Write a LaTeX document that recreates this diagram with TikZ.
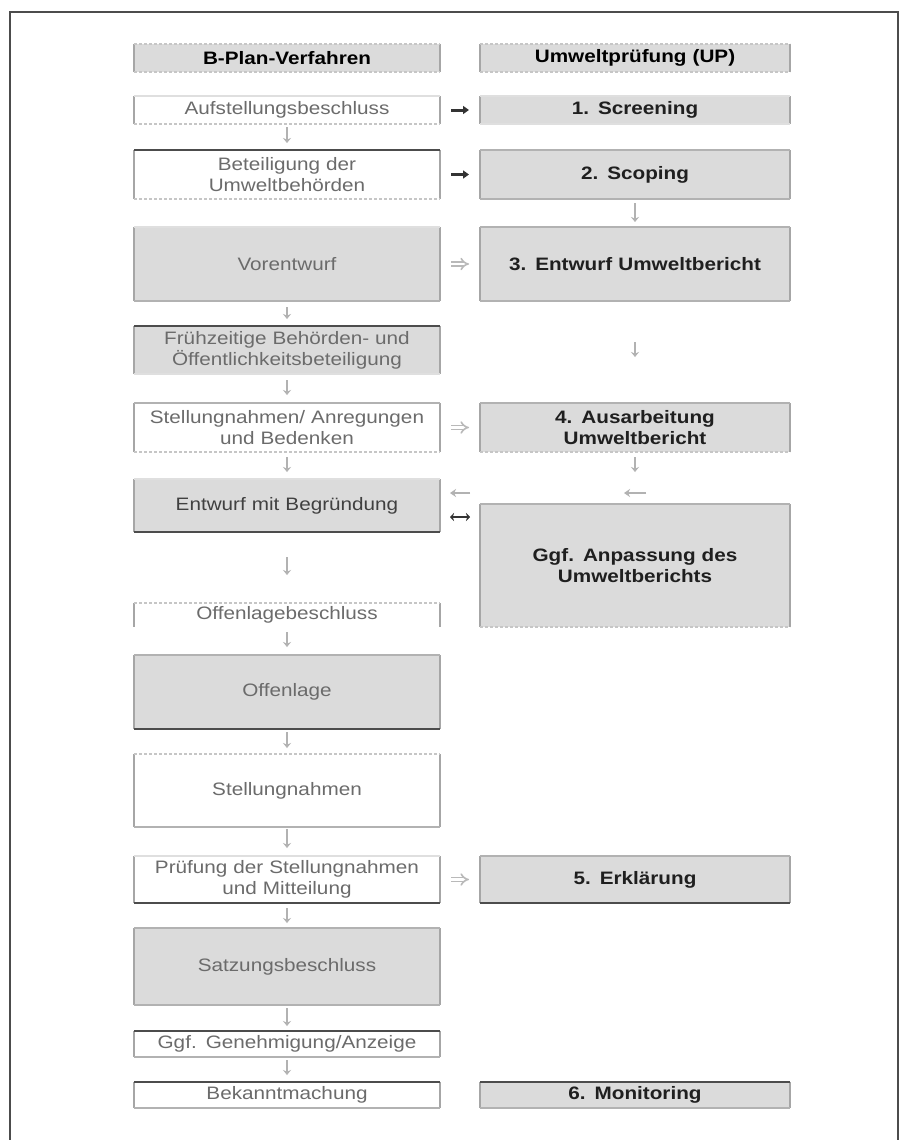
\documentclass[tikz,border=0pt]{standalone}
\usepackage{fontspec}
\setmainfont{Liberation Sans}[FakeStretch=1.15]
\usetikzlibrary{arrows.meta}
\definecolor{boxgray}{gray}{0.86}
\definecolor{txtL}{gray}{0.42}
\definecolor{txtR}{gray}{0.12}
\newcommand\boxedges[3]{%
  \draw[sideline] (#1.north west) -- (#1.south west) (#1.north east) -- (#1.south east);
  \draw[#2] (#1.north west) -- (#1.north east);
  \draw[#3] (#1.south west) -- (#1.south east);}
\begin{document}
\begin{tikzpicture}[x=1pt,y=-1pt,
  every node/.style={inner sep=0pt, outer sep=0pt, align=center, font=\fontsize{18}{21}\selectfont},
  lbox/.style={minimum width=306pt, text width=300pt, text=txtL},
  rbox/.style={minimum width=310pt, text width=304pt, text=txtR, font=\fontsize{18}{21}\selectfont\bfseries},
  gfill/.style={fill=boxgray},
  wfill/.style={fill=white},
  sideline/.style={draw=gray!70, line width=1.6pt},
  dk/.style={draw=black!70, line width=2.4pt},
  md/.style={draw=gray!60, line width=1.8pt},
  lt/.style={draw=gray!25, line width=1.4pt},
  dt/.style={draw=gray!45, line width=1.8pt, dash pattern=on 3pt off 2pt},
  nl/.style={draw=none},
  dn/.style={draw=gray!60, line width=2.6pt, -{Stealth[length=5pt,width=8pt]}},
  rdark/.style={draw=black!80, line width=3pt, -{Triangle[length=6pt,width=8pt]}, shorten <=11pt, shorten >=11pt},
  rdbl/.style={draw=gray!55, double, double distance=2.5pt, line width=1.6pt, -{Implies}, shorten <=11pt, shorten >=11pt},
  lar/.style={draw=gray!60, line width=2.4pt, -{Stealth[length=6pt,width=8pt]}},
  lrar/.style={draw=black!80, line width=2.8pt, {Stealth[length=4pt,width=8pt]}-{Stealth[length=4pt,width=8pt]}, shorten <=10pt, shorten >=10pt}
]
\useasboundingbox (0,0) rectangle (911,1140);
\fill[white] (0,0) rectangle (911,1140);
% frame
\draw[black!70, line width=1.4pt] (10,1150) -- (10,12) -- (898,12) -- (898,1150);

% left column
\node[lbox,gfill,minimum height=28pt,text=black,font=\fontsize{18}{21}\selectfont\bfseries] (hL) at (287,58) {B-Plan-Verfahren};
\node[lbox,wfill,minimum height=28pt] (auf) at (287,110) {Aufstellungsbeschluss};
\node[lbox,wfill,minimum height=49pt] (bet) at (287,174.5) {Beteiligung der\\Umweltbehörden};
\node[lbox,gfill,minimum height=74pt] (vor) at (287,264) {Vorentwurf};
\node[lbox,gfill,minimum height=48pt] (fru) at (287,350) {Frühzeitige Behörden- und\\Öffentlichkeitsbeteiligung};
\node[lbox,wfill,minimum height=49pt] (ste1) at (287,427.5) {Stellungnahmen/ Anregungen\\und Bedenken};
\node[lbox,gfill,minimum height=53pt,text=black!75] (ent) at (287,505.5) {Entwurf mit Begründung};
\node[lbox,wfill,minimum height=24pt] (olb) at (287,615) {Offenlagebeschluss};
\node[lbox,gfill,minimum height=74pt] (off) at (287,692) {Offenlage};
\node[lbox,wfill,minimum height=73pt] (ste2) at (287,790.5) {Stellungnahmen};
\node[lbox,wfill,minimum height=47pt] (pru) at (287,879.5) {Prüfung der Stellungnahmen\\und Mitteilung};
\node[lbox,gfill,minimum height=77pt] (sat) at (287,966.5) {Satzungsbeschluss};
\node[lbox,wfill,minimum height=26pt] (gen) at (287,1044) {Ggf. Genehmigung/Anzeige};
\node[lbox,wfill,minimum height=26pt] (bek) at (287,1095) {Bekanntmachung};

% right column
\node[rbox,gfill,minimum height=28pt,text=black] (hR) at (635,58) {Umweltprüfung (UP)};
\node[rbox,gfill,minimum height=28pt] (scr) at (635,110) {1. Screening};
\node[rbox,gfill,minimum height=49pt] (sco) at (635,174.5) {2. Scoping};
\node[rbox,gfill,minimum height=74pt] (ent3) at (635,264) {3. Entwurf Umweltbericht};
\node[rbox,gfill,minimum height=49pt] (aus) at (635,427.5) {4. Ausarbeitung\\Umweltbericht};
\node[rbox,gfill,minimum height=123pt] (anp) at (635,565.5) {Ggf. Anpassung des\\Umweltberichts};
\node[rbox,gfill,minimum height=47pt] (erk) at (635,879.5) {5. Erklärung};
\node[rbox,gfill,minimum height=26pt] (mon) at (635,1095) {6. Monitoring};

% box edges
\boxedges{hL}{dt}{dt}
\boxedges{hR}{dt}{dt}
\boxedges{auf}{lt}{dt}
\boxedges{scr}{lt}{lt}
\boxedges{bet}{dk}{dt}
\boxedges{sco}{md}{md}
\boxedges{vor}{lt}{md}
\boxedges{ent3}{md}{md}
\boxedges{fru}{dk}{lt}
\boxedges{ste1}{md}{dt}
\boxedges{aus}{md}{dt}
\boxedges{ent}{lt}{dk}
\boxedges{anp}{md}{dt}
\boxedges{olb}{dt}{nl}
\boxedges{off}{md}{dk}
\boxedges{ste2}{dt}{md}
\boxedges{pru}{lt}{dk}
\boxedges{erk}{md}{dk}
\boxedges{sat}{md}{md}
\boxedges{gen}{dk}{md}
\boxedges{bek}{dk}{md}
\boxedges{mon}{dk}{md}

% down arrows, left
\draw[dn, shorten <=3pt, shorten >=7pt] (auf) -- (bet);
\draw[dn, shorten <=6pt, shorten >=7pt] (vor) -- (fru);
\draw[dn, shorten <=6pt, shorten >=8pt] (fru) -- (ste1);
\draw[dn, shorten <=5pt, shorten >=7pt] (ste1) -- (ent);
\draw[dn, shorten <=25pt, shorten >=28pt] (ent) -- (olb);
\draw[dn, shorten <=5pt, shorten >=8pt] (olb) -- (off);
\draw[dn, shorten <=3pt, shorten >=6pt] (off) -- (ste2);
\draw[dn, shorten <=2pt, shorten >=8pt] (ste2) -- (pru);
\draw[dn, shorten <=5pt, shorten >=5pt] (pru) -- (sat);
\draw[dn, shorten <=3pt, shorten >=5pt] (sat) -- (gen);
\draw[dn, shorten <=3pt, shorten >=7pt] (gen) -- (bek);
% down arrows, right
\draw[dn, shorten <=4pt, shorten >=5pt] (sco) -- (ent3);
\draw[dn, shorten <=41pt, shorten >=46pt] (ent3) -- (aus);
\draw[dn, shorten <=5pt, shorten >=32pt] (aus) -- (anp);

% horizontal arrows
\draw[rdark] (auf) -- (scr);
\draw[rdark] (bet) -- (sco);
\draw[rdbl] (vor) -- (ent3);
\draw[rdbl] (ste1) -- (aus);
\draw[rdbl] (pru) -- (erk);

\coordinate (yA) at (0,493);
\coordinate (yB) at (0,517);
\draw[lar, shorten <=10pt, shorten >=10pt] (anp.west |- yA) -- (ent.east |- yA);
\coordinate (fr) at (646,493);
\draw[lar] (fr) -- ++(-22,0);
\draw[lrar] (ent.east |- yB) -- (anp.west |- yB);
\end{tikzpicture}
\end{document}
